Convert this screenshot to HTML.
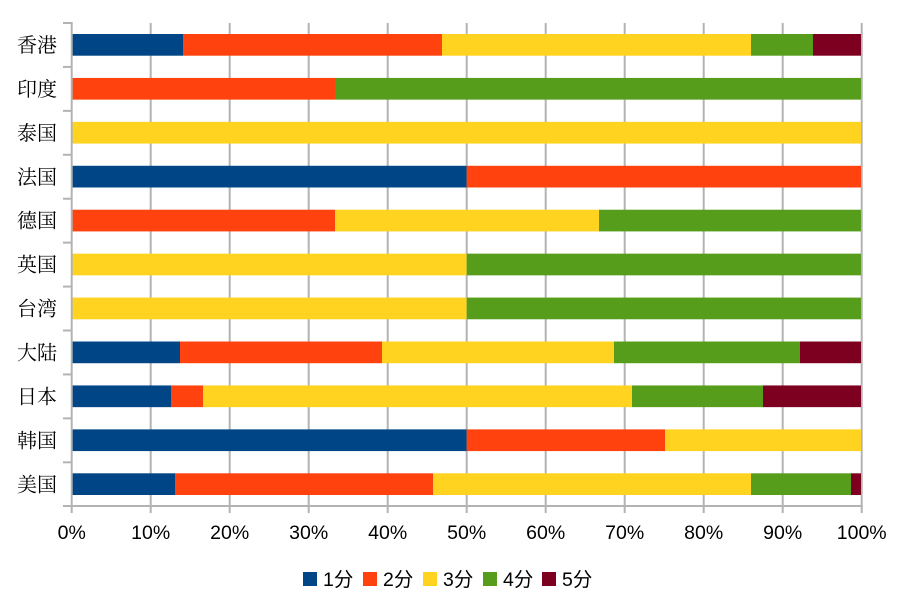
<!DOCTYPE html>
<html><head><meta charset="utf-8"><style>
html,body{margin:0;padding:0;background:#fff;}
svg{display:block;}
.cat{font-family:"Liberation Serif","Noto Serif CJK SC",serif;font-size:20px;fill:#000;}
.tk{font-family:"Liberation Sans",Arial,sans-serif;font-size:19.5px;fill:#000;}
.lg{font-family:"Liberation Sans","Noto Sans CJK SC",sans-serif;font-size:19.5px;fill:#000;}
</style></head><body>
<svg width="899" height="612" viewBox="0 0 899 612" xmlns="http://www.w3.org/2000/svg">
<rect width="899" height="612" fill="#fff"/>
<g stroke="#b3b3b3" stroke-width="2">
<line x1="150.7" y1="23" x2="150.7" y2="513"/>
<line x1="229.7" y1="23" x2="229.7" y2="513"/>
<line x1="308.7" y1="23" x2="308.7" y2="513"/>
<line x1="387.7" y1="23" x2="387.7" y2="513"/>
<line x1="466.7" y1="23" x2="466.7" y2="513"/>
<line x1="545.7" y1="23" x2="545.7" y2="513"/>
<line x1="624.7" y1="23" x2="624.7" y2="513"/>
<line x1="703.7" y1="23" x2="703.7" y2="513"/>
<line x1="782.7" y1="23" x2="782.7" y2="513"/>
<line x1="861.7" y1="23" x2="861.7" y2="513"/>
</g>
<g>
<!-- 香港 y=34 -->
<rect x="72" y="34" width="111" height="21.7" fill="#004586"/>
<rect x="183" y="34" width="259" height="21.7" fill="#ff420e"/>
<rect x="442" y="34" width="309" height="21.7" fill="#ffd320"/>
<rect x="751" y="34" width="62" height="21.7" fill="#579d1c"/>
<rect x="813" y="34" width="48" height="21.7" fill="#7e0021"/>
<!-- 印度 -->
<rect x="72" y="77.93" width="263" height="21.7" fill="#ff420e"/>
<rect x="335" y="77.93" width="526" height="21.7" fill="#579d1c"/>
<!-- 泰国 -->
<rect x="72" y="121.86" width="789" height="21.7" fill="#ffd320"/>
<!-- 法国 -->
<rect x="72" y="165.79" width="394.7" height="21.7" fill="#004586"/>
<rect x="466.7" y="165.79" width="394.3" height="21.7" fill="#ff420e"/>
<!-- 德国 -->
<rect x="72" y="209.72" width="263" height="21.7" fill="#ff420e"/>
<rect x="335" y="209.72" width="264" height="21.7" fill="#ffd320"/>
<rect x="599" y="209.72" width="262" height="21.7" fill="#579d1c"/>
<!-- 英国 -->
<rect x="72" y="253.65" width="394.7" height="21.7" fill="#ffd320"/>
<rect x="466.7" y="253.65" width="394.3" height="21.7" fill="#579d1c"/>
<!-- 台湾 -->
<rect x="72" y="297.58" width="394.7" height="21.7" fill="#ffd320"/>
<rect x="466.7" y="297.58" width="394.3" height="21.7" fill="#579d1c"/>
<!-- 大陆 -->
<rect x="72" y="341.51" width="108" height="21.7" fill="#004586"/>
<rect x="180" y="341.51" width="202" height="21.7" fill="#ff420e"/>
<rect x="382" y="341.51" width="232" height="21.7" fill="#ffd320"/>
<rect x="614" y="341.51" width="186" height="21.7" fill="#579d1c"/>
<rect x="800" y="341.51" width="61" height="21.7" fill="#7e0021"/>
<!-- 日本 -->
<rect x="72" y="385.44" width="99" height="21.7" fill="#004586"/>
<rect x="171" y="385.44" width="32" height="21.7" fill="#ff420e"/>
<rect x="203" y="385.44" width="429" height="21.7" fill="#ffd320"/>
<rect x="632" y="385.44" width="131" height="21.7" fill="#579d1c"/>
<rect x="763" y="385.44" width="98" height="21.7" fill="#7e0021"/>
<!-- 韩国 -->
<rect x="72" y="429.37" width="394.7" height="21.7" fill="#004586"/>
<rect x="466.7" y="429.37" width="198.3" height="21.7" fill="#ff420e"/>
<rect x="665" y="429.37" width="196" height="21.7" fill="#ffd320"/>
<!-- 美国 -->
<rect x="72" y="473.3" width="103" height="21.7" fill="#004586"/>
<rect x="175" y="473.3" width="258" height="21.7" fill="#ff420e"/>
<rect x="433" y="473.3" width="318" height="21.7" fill="#ffd320"/>
<rect x="751" y="473.3" width="100" height="21.7" fill="#579d1c"/>
<rect x="851" y="473.3" width="10" height="21.7" fill="#7e0021"/>
</g>
<g stroke="#b3b3b3" stroke-width="2">
<line x1="71.7" y1="22" x2="71.7" y2="513"/>
<line x1="63" y1="506" x2="862.7" y2="506"/>
<line x1="63" y1="23" x2="72" y2="23"/>
<line x1="63" y1="66.93" x2="72" y2="66.93"/>
<line x1="63" y1="110.86" x2="72" y2="110.86"/>
<line x1="63" y1="154.79" x2="72" y2="154.79"/>
<line x1="63" y1="198.72" x2="72" y2="198.72"/>
<line x1="63" y1="242.65" x2="72" y2="242.65"/>
<line x1="63" y1="286.58" x2="72" y2="286.58"/>
<line x1="63" y1="330.51" x2="72" y2="330.51"/>
<line x1="63" y1="374.44" x2="72" y2="374.44"/>
<line x1="63" y1="418.37" x2="72" y2="418.37"/>
<line x1="63" y1="462.3" x2="72" y2="462.3"/>
</g>
<g class="cat" text-anchor="end">
<text x="57" y="52">香港</text>
<text x="57" y="95.9">印度</text>
<text x="57" y="139.9">泰国</text>
<text x="57" y="183.8">法国</text>
<text x="57" y="227.7">德国</text>
<text x="57" y="271.7">英国</text>
<text x="57" y="315.6">台湾</text>
<text x="57" y="359.5">大陆</text>
<text x="57" y="403.4">日本</text>
<text x="57" y="447.4">韩国</text>
<text x="57" y="491.3">美国</text>
</g>
<g class="tk" text-anchor="middle">
<text x="71.7" y="539">0%</text>
<text x="150.7" y="539">10%</text>
<text x="229.7" y="539">20%</text>
<text x="308.7" y="539">30%</text>
<text x="387.7" y="539">40%</text>
<text x="466.7" y="539">50%</text>
<text x="545.7" y="539">60%</text>
<text x="624.7" y="539">70%</text>
<text x="703.7" y="539">80%</text>
<text x="782.7" y="539">90%</text>
<text x="861.7" y="539">100%</text>
</g>
<g>
<rect x="303" y="572" width="14" height="14" fill="#004586"/>
<rect x="363" y="572" width="14" height="14" fill="#ff420e"/>
<rect x="423" y="572" width="14" height="14" fill="#ffd320"/>
<rect x="483" y="572" width="14" height="14" fill="#579d1c"/>
<rect x="542" y="572" width="14" height="14" fill="#7e0021"/>
</g>
<g class="lg">
<text x="323" y="586">1分</text>
<text x="383" y="586">2分</text>
<text x="443" y="586">3分</text>
<text x="503" y="586">4分</text>
<text x="562" y="586">5分</text>
</g>
</svg>
</body></html>
